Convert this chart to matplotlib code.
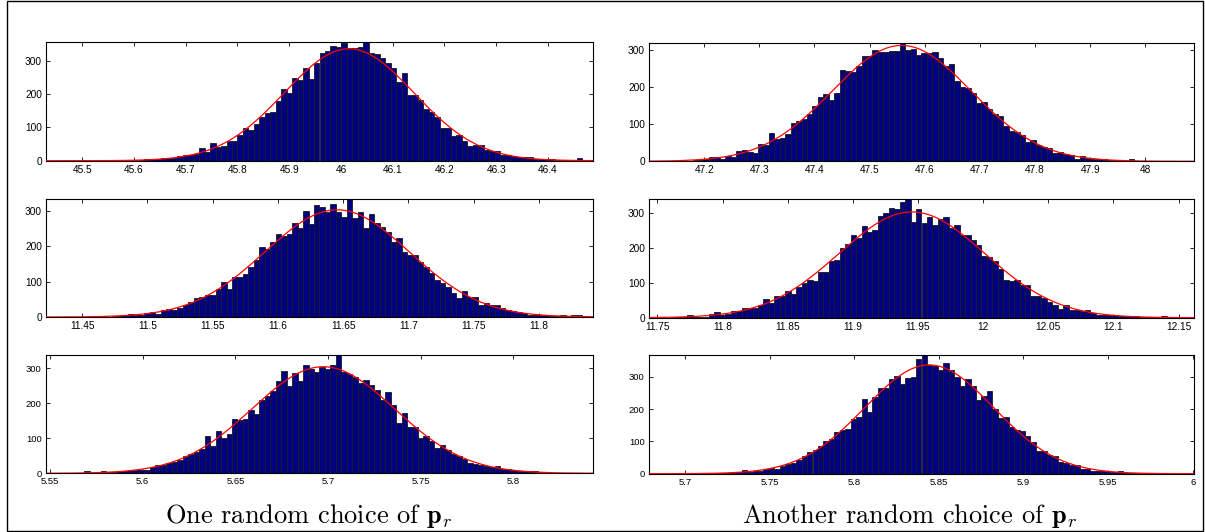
import numpy as np
import matplotlib
matplotlib.use("Agg")
import matplotlib.pyplot as plt
from matplotlib.patches import Rectangle

# Histogram counts (100 bins) of the estimated parameter over repeated runs.
# Left column: first random choice of p_r, right column: second choice.
counts_a1 = [0, 0, 0, 0, 0, 0, 0, 0, 0, 0,
             0, 1, 2, 1, 2, 3, 2, 3, 4, 5,
             4, 7, 9, 8, 13, 16, 18, 20, 38, 26,
             52, 42, 43, 58, 60, 76, 98, 93, 110, 133,
             143, 146, 181, 216, 203, 250, 243, 278, 246, 295,
             325, 331, 346, 343, 353, 340, 340, 343, 356, 323,
             321, 308, 293, 280, 236, 263, 198, 198, 182, 156,
             146, 133, 98, 98, 73, 76, 58, 43, 46, 48,
             33, 30, 28, 18, 18, 15, 11, 11, 10, 6,
             5, 5, 5, 2, 2, 2, 1, 8, 0, 0]
counts_b1 = [0, 0, 0, 0, 0, 1, 1, 2, 3, 3,
             6, 12, 12, 5, 15, 12, 27, 30, 24, 23,
             47, 45, 77, 59, 63, 74, 104, 108, 114, 128,
             149, 173, 182, 165, 185, 248, 243, 241, 259, 286,
             284, 302, 297, 297, 299, 299, 320, 302, 304, 288,
             293, 293, 295, 280, 259, 264, 216, 202, 198, 185,
             159, 160, 141, 128, 122, 95, 81, 78, 70, 51,
             58, 43, 38, 36, 23, 24, 21, 18, 7, 14,
             9, 7, 6, 5, 4, 4, 3, 2, 5, 2,
             1, 1, 0, 1, 0, 0, 0, 0, 0, 1]
counts_a2 = [0, 0, 0, 0, 0, 1, 0, 1, 1, 1,
             2, 1, 2, 3, 7, 9, 5, 5, 12, 14,
             9, 19, 23, 19, 26, 33, 42, 53, 56, 63,
             61, 80, 98, 80, 112, 112, 121, 141, 162, 197,
             192, 213, 234, 229, 234, 265, 252, 300, 263, 318,
             311, 297, 321, 297, 283, 335, 281, 297, 251, 292,
             265, 256, 241, 211, 223, 183, 175, 175, 155, 143,
             124, 106, 96, 86, 67, 53, 73, 58, 56, 35,
             39, 35, 35, 26, 19, 16, 14, 12, 7, 7,
             5, 5, 4, 3, 5, 2, 5, 5, 2, 0]
counts_b2 = [1, 0, 1, 0, 1, 2, 1, 7, 3, 2,
             3, 10, 15, 9, 10, 18, 19, 27, 27, 27,
             35, 52, 42, 61, 61, 75, 68, 87, 98, 109,
             106, 130, 130, 163, 165, 200, 210, 236, 227, 262,
             246, 249, 290, 300, 312, 311, 330, 338, 273, 311,
             271, 287, 265, 281, 287, 255, 265, 236, 237, 221,
             207, 175, 174, 163, 139, 109, 106, 109, 94, 92,
             61, 63, 56, 46, 35, 26, 35, 23, 21, 19,
             21, 14, 9, 9, 7, 7, 6, 5, 4, 4,
             3, 3, 3, 3, 5, 2, 2, 3, 2, 2]
counts_a3 = [0, 0, 0, 0, 1, 1, 2, 6, 2, 2,
             6, 3, 3, 6, 6, 8, 10, 10, 9, 17,
             23, 23, 28, 32, 37, 48, 55, 60, 70, 106,
             79, 120, 101, 112, 154, 153, 156, 179, 169, 208,
             219, 234, 262, 291, 250, 287, 264, 310, 297, 289,
             304, 298, 310, 338, 289, 283, 274, 257, 267, 252,
             238, 208, 232, 196, 143, 172, 131, 131, 102, 105,
             93, 72, 82, 65, 55, 48, 41, 29, 27, 25,
             20, 19, 20, 13, 13, 10, 6, 6, 6, 6,
             4, 3, 2, 2, 1, 1, 1, 0, 1, 0]
counts_b3 = [0, 0, 0, 0, 0, 1, 0, 1, 0, 1,
             1, 1, 2, 2, 3, 3, 4, 10, 5, 7,
             9, 16, 18, 16, 25, 30, 33, 43, 54, 67,
             73, 87, 100, 109, 129, 137, 139, 171, 175, 233,
             191, 237, 267, 265, 294, 302, 278, 297, 299, 357,
             367, 336, 333, 320, 343, 320, 299, 271, 292, 273,
             228, 240, 255, 200, 172, 176, 145, 137, 132, 116,
             98, 71, 71, 59, 54, 35, 33, 28, 28, 16,
             14, 7, 9, 9, 4, 4, 7, 3, 2, 2,
             1, 1, 1, 2, 1, 0, 1, 0, 1, 0]

# Outer bin edges of each histogram
range_a1 = (45.430, 46.487)
range_b1 = (47.100, 48.088)
range_a2 = (11.4223, 11.8415)
range_b2 = (11.7436, 12.1618)
range_a3 = (5.5478, 5.8430)
range_b3 = (5.6787, 6.0008)

# x tick positions
ticks_a1 = [45.5, 45.6, 45.7, 45.8, 45.9, 46.0, 46.1, 46.2, 46.3, 46.4]
ticks_b1 = [47.2, 47.3, 47.4, 47.5, 47.6, 47.7, 47.8, 47.9, 48.0]
ticks_a2 = [11.45, 11.5, 11.55, 11.6, 11.65, 11.7, 11.75, 11.8]
ticks_b2 = [11.75, 11.8, 11.85, 11.9, 11.95, 12.0, 12.05, 12.1, 12.15]
ticks_a3 = [5.55, 5.6, 5.65, 5.7, 5.75, 5.8]
ticks_b3 = [5.7, 5.75, 5.8, 5.85, 5.9, 5.95, 6.0]
yticks = [0, 100, 200, 300]

captions = [r"One random choice of $\mathbf{p}_r$",
            r"Another random choice of $\mathbf{p}_r$"]

plt.rcParams['mathtext.fontset'] = 'cm'
plt.rcParams['font.family'] = ['Liberation Sans', 'DejaVu Sans']


def histPanel(ax, counts, xrange, xticks, labelsize):
    '''Bar histogram with a fitted normal curve on top, MATLAB look.'''
    counts = np.asarray(counts, dtype=float)
    edges = np.linspace(xrange[0], xrange[1], len(counts) + 1)
    centers = 0.5 * (edges[:-1] + edges[1:])
    bw = edges[1] - edges[0]
    ax.bar(centers, counts, width=bw, color='#000080', edgecolor='#1a1a1a',
           linewidth=0.6, zorder=2)

    # normal fit from the binned samples
    n = counts.sum()
    mu = (counts * centers).sum() / n
    sigma = np.sqrt((counts * (centers - mu) ** 2).sum() / n)
    xs = np.linspace(xrange[0], xrange[1], 400)
    ys = n * bw / (sigma * np.sqrt(2 * np.pi)) * np.exp(-0.5 * ((xs - mu) / sigma) ** 2)
    ax.plot(xs, ys, color='red', linewidth=0.9, zorder=3)

    ax.set_xlim(xrange)
    ax.set_ylim(0, counts.max())
    ax.set_xticks(xticks)
    ax.set_xticklabels(['%g' % t for t in xticks])
    ax.set_yticks(yticks)
    ax.tick_params(direction='in', length=3, width=0.6, top=True, right=True,
                   labelsize=labelsize, pad=3)
    for s in ax.spines.values():
        s.set_linewidth(0.8)


fig = plt.figure(figsize=(12.05, 5.32), dpi=100)
W, H = 1205.0, 532.0

# axes boxes in pixels: (left, top, right, bottom)
boxes = [[(46, 42.5, 593, 160.7), (649, 43, 1194, 161.3)],
         [(46, 198.7, 593, 317), (649, 199.3, 1194, 317.7)],
         [(46, 354.7, 593, 473.3), (649, 355.3, 1194, 473.7)]]
panels = [[(counts_a1, range_a1, ticks_a1), (counts_b1, range_b1, ticks_b1)],
          [(counts_a2, range_a2, ticks_a2), (counts_b2, range_b2, ticks_b2)],
          [(counts_a3, range_a3, ticks_a3), (counts_b3, range_b3, ticks_b3)]]

for r in range(3):
    for c in range(2):
        l, t, rr, b = boxes[r][c]
        ax = fig.add_axes([l / W, 1 - b / H, (rr - l) / W, (b - t) / H])
        cnt, rng, tk = panels[r][c]
        histPanel(ax, cnt, rng, tk, 7.3 if r < 2 else 6.8)

# captions under each column
fig.text(309 / W, 1 - 523 / H, captions[0], family='cmr10', fontsize=19,
         ha='center', va='baseline')
fig.text(910 / W, 1 - 523 / H, captions[1], family='cmr10', fontsize=19,
         ha='center', va='baseline')

# frame around the whole figure
fig.patches.append(Rectangle((7 / W, 1 / H), 1196 / W, 530 / H,
                             transform=fig.transFigure, fill=False,
                             edgecolor='black', linewidth=1.0))

fig.savefig('out.png', dpi=100)
